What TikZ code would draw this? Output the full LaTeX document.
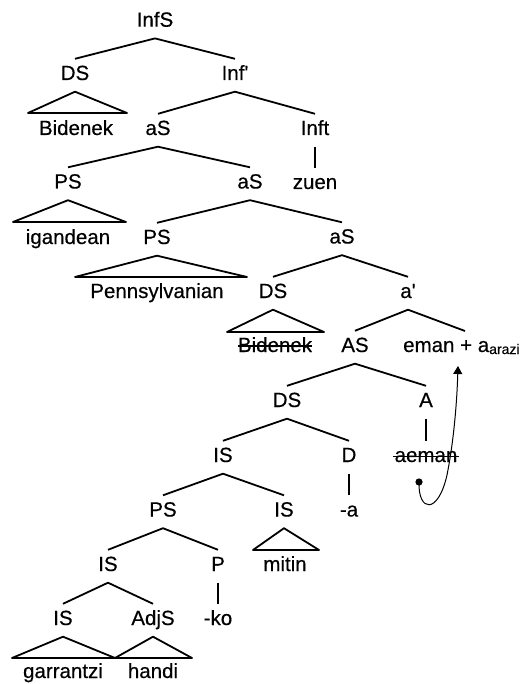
\documentclass[tikz,border=0pt]{standalone}
\usepackage{fontspec}
\setmainfont{Liberation Sans}[Ligatures=TeXOff, FakeBold=0.4]
\usetikzlibrary{arrows.meta}
\begin{document}
\begin{tikzpicture}[x=1pt,y=-1pt,
  lbl/.style={anchor=base, inner xsep=0pt, inner ysep=6.3pt, text height=14.7pt, text depth=5.2pt, font=\fontsize{20.5}{24}\selectfont},
  br/.style={line width=1.8pt, line join=round},
  strike/.style={line width=1.2pt},
  move/.style={line width=1pt, -{Triangle[length=8pt,width=9pt]}},
]
\useasboundingbox (0,0) rectangle (523,684);
% nodes
\node[lbl] (n1) at (155,26.7) {InfS};
\node[lbl] (n2) at (75,80) {DS};
\node[lbl] (n3) at (235,80) {Inf'};
\node[lbl] (n4) at (76,135) {Bidenek};
\node[lbl] (n5) at (158,135) {aS};
\node[lbl] (n6) at (315,135) {Inft};
\node[lbl] (n7) at (68,188.5) {PS};
\node[lbl] (n8) at (250,188.5) {aS};
\node[lbl] (n9) at (315,189) {zuen};
\node[lbl] (n10) at (68,244) {igandean};
\node[lbl] (n11) at (157,244) {PS};
\node[lbl] (n12) at (342,243.5) {aS};
\node[lbl] (n13) at (157,298) {Pennsylvanian};
\node[lbl] (n14) at (273,298) {DS};
\node[lbl] (n15) at (408,298) {a'};
\node[lbl] (n16) at (275,352) {Bidenek};
\node[lbl] (n17) at (355,352) {AS};
\node[lbl, anchor=base west] (n18) at (403,352) {eman + a\raisebox{-2pt}{\fontsize{14}{16}\selectfont arazi}};
\node[lbl] (n19) at (287,407) {DS};
\node[lbl] (n20) at (426,407) {A};
\node[lbl] (n21) at (223,462) {IS};
\node[lbl] (n22) at (349,462) {D};
\node[lbl] (n23) at (426,462) {aeman};
\node[lbl] (n24) at (163,516.5) {PS};
\node[lbl] (n25) at (284,516.5) {IS};
\node[lbl] (n26) at (349,516.5) {-a};
\node[lbl] (n27) at (108,571) {IS};
\node[lbl] (n28) at (218,571) {P};
\node[lbl] (n29) at (285,571) {mitin};
\node[lbl] (n30) at (63,625) {IS};
\node[lbl] (n31) at (153,625) {AdjS};
\node[lbl] (n32) at (218,625) {-ko};
\node[lbl] (n33) at (63,678) {garrantzi};
\node[lbl] (n34) at (153,678) {handi};
% helper coordinates
\coordinate (emtop) at (465,331);
\coordinate (t4l) at (28,113);   \coordinate (t4r) at (127,113);
\coordinate (t10l) at (13,222);  \coordinate (t10r) at (126,222);
\coordinate (t13l) at (75,277);  \coordinate (t13r) at (247,277);
\coordinate (t16l) at (227,332); \coordinate (t16r) at (324,332);
\coordinate (t29l) at (253,550); \coordinate (t29r) at (319,550);
\coordinate (t33l) at (12,658);  \coordinate (t33r) at (115,658);
\coordinate (t34l) at (115,658); \coordinate (t34r) at (192,658);
\coordinate (mvs) at (419,482);
\coordinate (mvm) at (447,475);
\coordinate (mve) at (458,366);
% branches
\draw[br] (n2.north) -- (n1.south) -- (n3.north);
\draw[br] (n5.north) -- (n3.south) -- (n6.north);
\draw[br] (n6.south) -- (n9.north);
\draw[br] (n7.north) -- (n5.south) -- (n8.north);
\draw[br] (n11.north) -- (n8.south) -- (n12.north);
\draw[br] (n14.north) -- (n12.south) -- (n15.north);
\draw[br] (n17.north) -- (n15.south) -- (emtop);
\draw[br] (n19.north) -- (n17.south) -- (n20.north);
\draw[br] (n20.south) -- (n23.north);
\draw[br] (n21.north) -- (n19.south) -- (n22.north);
\draw[br] (n22.south) -- (n26.north);
\draw[br] (n24.north) -- (n21.south) -- (n25.north);
\draw[br] (n27.north) -- (n24.south) -- (n28.north);
\draw[br] (n28.south) -- (n32.north);
\draw[br] (n30.north) -- (n27.south) -- (n31.north);
% triangles
\draw[br] (n2.south) -- (t4r) -- (t4l) -- cycle;
\draw[br] (n7.south) -- (t10r) -- (t10l) -- cycle;
\draw[br] (n11.south) -- (t13r) -- (t13l) -- cycle;
\draw[br] (n14.south) -- (t16r) -- (t16l) -- cycle;
\draw[br] (n25.south) -- (t29r) -- (t29l) -- cycle;
\draw[br] (n30.south) -- (t33r) -- (t33l) -- cycle;
\draw[br] (n31.south) -- (t34r) -- (t34l) -- cycle;
% strikethroughs
\draw[strike] ([yshift=6pt]n16.base west) -- ([yshift=6pt]n16.base east);
\draw[strike] ([xshift=-1pt,yshift=5.5pt]n23.base west) -- ([xshift=1pt,yshift=5.5pt]n23.base east);
% movement arrow
\fill (mvs) circle (3.6pt);
\draw[move] (mvs) .. controls (418,512) and (438,515) .. (mvm) .. controls (454,440) and (457,400) .. (mve);
\end{tikzpicture}
\end{document}
